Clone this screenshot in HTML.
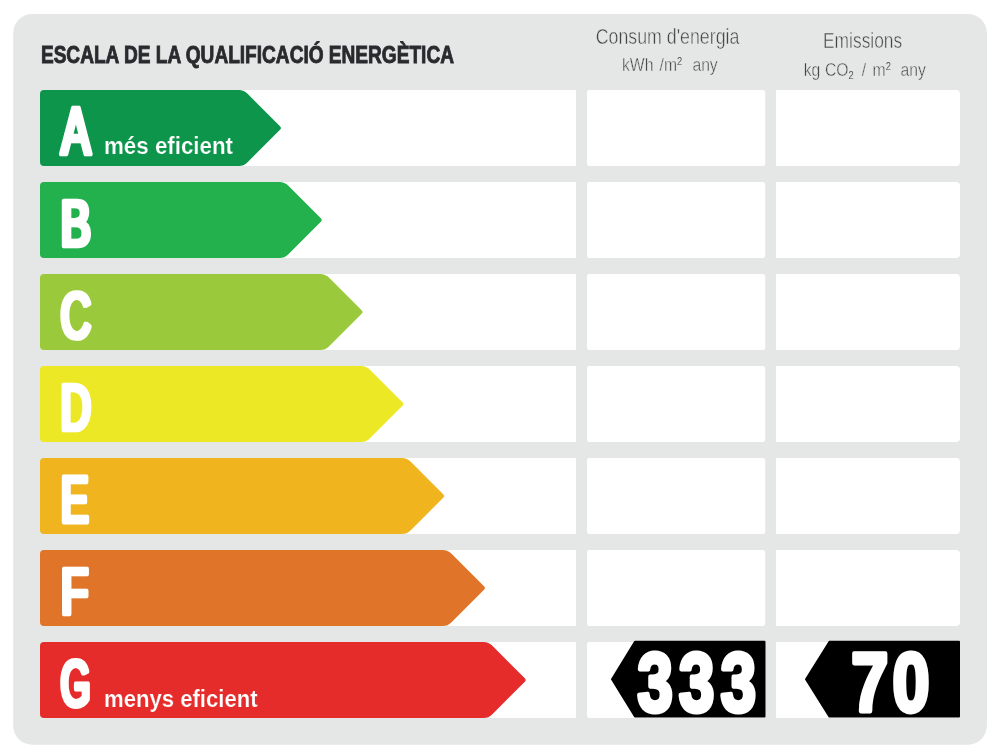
<!DOCTYPE html>
<html lang="ca"><head><meta charset="utf-8"><title>Escala de la qualificació energètica</title>
<style>
html,body{margin:0;padding:0;background:#fff;}
body{width:997px;height:756px;overflow:hidden;font-family:"Liberation Sans",sans-serif;}
svg{display:block;}
text{font-family:"Liberation Sans",sans-serif;}
.b{font-weight:700;}
</style></head><body>
<svg width="997" height="756" viewBox="0 0 997 756">
<defs><filter id="fat" x="-20%" y="-20%" width="140%" height="140%"><feMorphology operator="dilate" radius="1 0"/></filter></defs>
<rect x="13.2" y="14" width="973.7" height="730.7" rx="19" ry="19" fill="#e5e7e6"/>
<text class="b" transform="translate(40.9,63.3) scale(0.789,1)" font-size="24.2" fill="#2a2a2e" stroke="#2a2a2e" stroke-width="0.8" vector-effect="non-scaling-stroke">ESCALA DE LA QUALIFICACIÓ ENERGÈTICA</text>
<text transform="translate(667.5,44.2) scale(0.827,1)" font-size="21.5" fill="#444" stroke="#e5e7e6" stroke-width="0.45" vector-effect="non-scaling-stroke" text-anchor="middle">Consum d'energia</text>
<text transform="translate(862.6,47.5) scale(0.809,1)" font-size="21.5" fill="#444" stroke="#e5e7e6" stroke-width="0.45" vector-effect="non-scaling-stroke" text-anchor="middle">Emissions</text>
<text y="71.4" transform="scale(0.85,1)" font-size="18.5" fill="#444" stroke="#e5e7e6" stroke-width="0.45" vector-effect="non-scaling-stroke"><tspan x="731.76">kWh </tspan><tspan x="776.00">/m</tspan><tspan dy="-6.5" font-size="11" stroke-width="0.1">2 </tspan><tspan x="814.59" dy="6.5">any</tspan></text>
<text y="76.2" transform="scale(0.85,1)" font-size="18.5" fill="#444" stroke="#e5e7e6" stroke-width="0.45" vector-effect="non-scaling-stroke"><tspan x="945.53">kg </tspan><tspan x="970.59">CO</tspan><tspan dy="3.2" font-size="11" stroke-width="0.1">2 </tspan><tspan x="1013.88" dy="-3.2">/ </tspan><tspan x="1026.59">m</tspan><tspan dy="-6.5" font-size="11" stroke-width="0.1">2 </tspan><tspan x="1059.53" dy="6.5">any</tspan></text>
<path d="M44,90 H576 V166 H44 Z" fill="#fff"/>
<rect x="587" y="90" width="178.2" height="76" rx="2.8" fill="#fff"/>
<path d="M776,90 H956 a4,4 0 0 1 4,4 V162 a4,4 0 0 1 -4,4 H776 Z" fill="#fff"/>
<path d="M40.00,94.00 A4,4 0 0 1 44.00,90.00 L238.83,90.00 A12,12 0 0 1 247.31,93.51 L280.03,126.23 A2.5,2.5 0 0 1 280.03,129.77 L247.31,162.49 A12,12 0 0 1 238.83,166.00 L44.00,166.00 A4,4 0 0 1 40.00,162.00 Z" fill="#0d954b"/>
<text filter="url(#fat)" transform="translate(61.6,154.2) scale(0.652,1)" font-size="66" fill="#fff" stroke="#fff" stroke-width="4" stroke-linejoin="round" vector-effect="non-scaling-stroke">A</text>
<path d="M44,182 H576 V258 H44 Z" fill="#fff"/>
<rect x="587" y="182" width="178.2" height="76" rx="2.8" fill="#fff"/>
<path d="M776,182 H956 a4,4 0 0 1 4,4 V254 a4,4 0 0 1 -4,4 H776 Z" fill="#fff"/>
<path d="M40.00,186.00 A4,4 0 0 1 44.00,182.00 L279.63,182.00 A12,12 0 0 1 288.11,185.51 L320.83,218.23 A2.5,2.5 0 0 1 320.83,221.77 L288.11,254.49 A12,12 0 0 1 279.63,258.00 L44.00,258.00 A4,4 0 0 1 40.00,254.00 Z" fill="#22b14c"/>
<text filter="url(#fat)" transform="translate(60.7,245.6) scale(0.705,1)" font-size="63.9" fill="#fff" stroke="#fff" stroke-width="4" stroke-linejoin="round" vector-effect="non-scaling-stroke">B</text>
<path d="M44,274 H576 V350 H44 Z" fill="#fff"/>
<rect x="587" y="274" width="178.2" height="76" rx="2.8" fill="#fff"/>
<path d="M776,274 H956 a4,4 0 0 1 4,4 V346 a4,4 0 0 1 -4,4 H776 Z" fill="#fff"/>
<path d="M40.00,278.00 A4,4 0 0 1 44.00,274.00 L320.43,274.00 A12,12 0 0 1 328.91,277.51 L361.63,310.23 A2.5,2.5 0 0 1 361.63,313.77 L328.91,346.49 A12,12 0 0 1 320.43,350.00 L44.00,350.00 A4,4 0 0 1 40.00,346.00 Z" fill="#9aca3c"/>
<text filter="url(#fat)" transform="translate(60.8,337.6) scale(0.648,1)" font-size="63.9" fill="#fff" stroke="#fff" stroke-width="4" stroke-linejoin="round" vector-effect="non-scaling-stroke">C</text>
<path d="M44,366 H576 V442 H44 Z" fill="#fff"/>
<rect x="587" y="366" width="178.2" height="76" rx="2.8" fill="#fff"/>
<path d="M776,366 H956 a4,4 0 0 1 4,4 V438 a4,4 0 0 1 -4,4 H776 Z" fill="#fff"/>
<path d="M40.00,370.00 A4,4 0 0 1 44.00,366.00 L361.23,366.00 A12,12 0 0 1 369.71,369.51 L402.43,402.23 A2.5,2.5 0 0 1 402.43,405.77 L369.71,438.49 A12,12 0 0 1 361.23,442.00 L44.00,442.00 A4,4 0 0 1 40.00,438.00 Z" fill="#ece826"/>
<text filter="url(#fat)" transform="translate(60.7,429.6) scale(0.652,1)" font-size="63.9" fill="#fff" stroke="#fff" stroke-width="4" stroke-linejoin="round" vector-effect="non-scaling-stroke">D</text>
<path d="M44,458 H576 V534 H44 Z" fill="#fff"/>
<rect x="587" y="458" width="178.2" height="76" rx="2.8" fill="#fff"/>
<path d="M776,458 H956 a4,4 0 0 1 4,4 V530 a4,4 0 0 1 -4,4 H776 Z" fill="#fff"/>
<path d="M40.00,462.00 A4,4 0 0 1 44.00,458.00 L402.03,458.00 A12,12 0 0 1 410.51,461.51 L443.23,494.23 A2.5,2.5 0 0 1 443.23,497.77 L410.51,530.49 A12,12 0 0 1 402.03,534.00 L44.00,534.00 A4,4 0 0 1 40.00,530.00 Z" fill="#f0b41f"/>
<text filter="url(#fat)" transform="translate(61.1,521.6) scale(0.643,1)" font-size="63.9" fill="#fff" stroke="#fff" stroke-width="4" stroke-linejoin="round" vector-effect="non-scaling-stroke">E</text>
<path d="M44,550 H576 V626 H44 Z" fill="#fff"/>
<rect x="587" y="550" width="178.2" height="76" rx="2.8" fill="#fff"/>
<path d="M776,550 H956 a4,4 0 0 1 4,4 V622 a4,4 0 0 1 -4,4 H776 Z" fill="#fff"/>
<path d="M40.00,554.00 A4,4 0 0 1 44.00,550.00 L442.83,550.00 A12,12 0 0 1 451.31,553.51 L484.03,586.23 A2.5,2.5 0 0 1 484.03,589.77 L451.31,622.49 A12,12 0 0 1 442.83,626.00 L44.00,626.00 A4,4 0 0 1 40.00,622.00 Z" fill="#e07529"/>
<text filter="url(#fat)" transform="translate(60.9,613.6) scale(0.695,1)" font-size="63.9" fill="#fff" stroke="#fff" stroke-width="4" stroke-linejoin="round" vector-effect="non-scaling-stroke">F</text>
<path d="M44,642 H576 V718 H44 Z" fill="#fff"/>
<rect x="587" y="642" width="178.2" height="76" rx="2.8" fill="#fff"/>
<path d="M776,642 H956 a4,4 0 0 1 4,4 V714 a4,4 0 0 1 -4,4 H776 Z" fill="#fff"/>
<path d="M40.00,646.00 A4,4 0 0 1 44.00,642.00 L483.63,642.00 A12,12 0 0 1 492.11,645.51 L524.83,678.23 A2.5,2.5 0 0 1 524.83,681.77 L492.11,714.49 A12,12 0 0 1 483.63,718.00 L44.00,718.00 A4,4 0 0 1 40.00,714.00 Z" fill="#e62c2b"/>
<text filter="url(#fat)" transform="translate(60.8,705.6) scale(0.593,1)" font-size="63.9" fill="#fff" stroke="#fff" stroke-width="4" stroke-linejoin="round" vector-effect="non-scaling-stroke">G</text>
<text class="b" transform="translate(104,153.7) scale(0.919,1)" font-size="24.3" fill="#fff" stroke="#0d954b" stroke-width="0.2" vector-effect="non-scaling-stroke">més eficient</text>
<text class="b" transform="translate(104,707.4) scale(0.91,1)" font-size="24.3" fill="#fff" stroke="#e62c2b" stroke-width="0.2" vector-effect="non-scaling-stroke">menys eficient</text>
<path d="M635,641.8 H764.5 V716.6 H635 L612,679.2 Z" fill="#000" stroke="#000" stroke-width="2" stroke-linejoin="round"/>
<path d="M829.5,641.8 H959 V716.6 H829.5 L806,679.2 Z" fill="#000" stroke="#000" stroke-width="2" stroke-linejoin="round"/>
<text class="b" transform="translate(637.6,710.6) scale(0.758,1)" letter-spacing="8.3" font-size="83.6" fill="#fff" stroke="#fff" stroke-width="4.4" vector-effect="non-scaling-stroke" stroke-linejoin="round">333</text>
<text class="b" transform="translate(851.2,710.6) scale(0.797,1)" letter-spacing="5.3" font-size="83.6" fill="#fff" stroke="#fff" stroke-width="4.4" vector-effect="non-scaling-stroke" stroke-linejoin="round">70</text>
</svg>
</body></html>
